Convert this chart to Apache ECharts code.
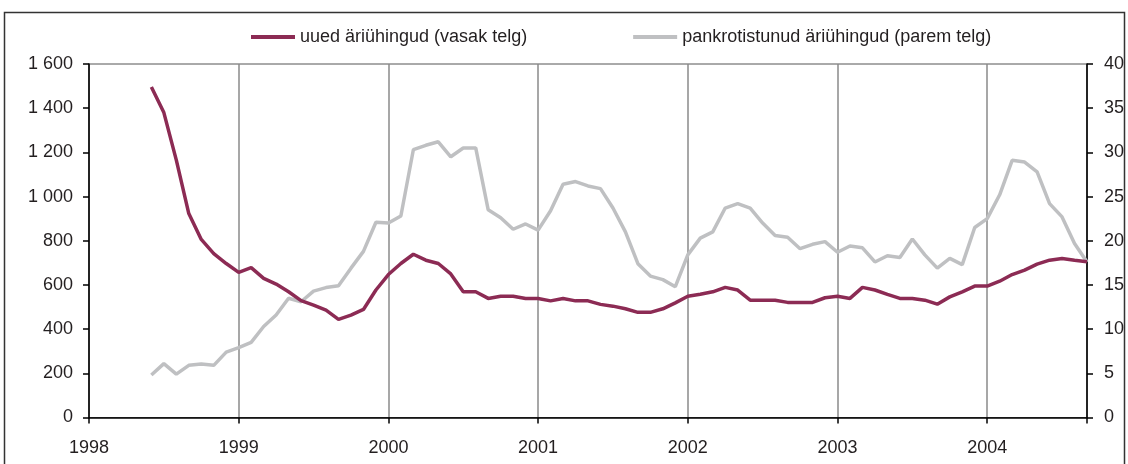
<!DOCTYPE html>
<html>
<head>
<meta charset="utf-8">
<script src="https://cdn.jsdelivr.net/npm/echarts@6/dist/echarts.min.js"></script>
<style>
  html, body { margin: 0; padding: 0; background: #fff; }
  #chart { width: 1128px; height: 464px; }
</style>
</head>
<body>
<div id="chart"></div>
<script>
// months counted from Jan 1998 (0) to Sep 2004 (80)
const startMonth = 5;
const years = ['1998', '1999', '2000', '2001', '2002', '2003', '2004'];

// uued äriühingud (vasak telg)
const newCompanies = [
  1496, 1380, 1165, 923, 806, 742, 697, 657, 678, 630, 604, 569,
  529, 509, 486, 444, 463, 489, 577, 647, 697, 739, 712, 697,
  650, 569, 569, 539, 549, 549, 539, 539, 528, 539, 528, 528,
  512, 504, 492, 476, 476, 492, 519, 549, 558, 569, 589, 577,
  531, 531, 531, 521, 521, 521, 542, 549, 539, 589, 577, 557,
  539, 539, 531, 513, 546, 569, 595, 595, 617, 647, 667, 694,
  712, 720, 712, 705
];

// pankrotistunud äriühingud (parem telg)
const bankrupt = [
  4.8, 6.1, 4.9, 5.9, 6.05, 5.9, 7.4, 7.9, 8.5, 10.3, 11.6, 13.5,
  13.1, 14.3, 14.7, 14.9, 16.9, 18.8, 22.1, 22.0, 22.8, 30.3, 30.8, 31.2,
  29.5, 30.5, 30.5, 23.5, 22.6, 21.3, 21.9, 21.2, 23.4, 26.4, 26.7, 26.2,
  25.9, 23.7, 21.0, 17.4, 16.0, 15.6, 14.8, 18.4, 20.3, 21.0, 23.7, 24.2,
  23.7, 22.0, 20.6, 20.4, 19.1, 19.6, 19.9, 18.7, 19.4, 19.2, 17.6, 18.3,
  18.1, 20.2, 18.4, 16.9, 18.0, 17.3, 21.5, 22.5, 25.2, 29.1, 28.9, 27.8,
  24.2, 22.7, 19.7, 17.6
];

const textColor = '#231f20';
const fontSize = 18;

function toPairs(arr) {
  return arr.map(function (v, i) {
    return [startMonth + i, v];
  });
}

const chart = echarts.init(document.getElementById('chart'));
chart.setOption({
  animation: false,
  textStyle: {
    fontFamily: 'Liberation Sans, Arial, sans-serif',
    color: textColor
  },
  graphic: [
    {
      type: 'rect',
      shape: { x: 4.5, y: 12.5, width: 1120, height: 480 },
      style: { fill: 'none', stroke: '#333', lineWidth: 1.5 },
      silent: true
    }
  ],
  legend: {
    left: 246,
    top: 23,
    itemWidth: 44,
    itemHeight: 4,
    itemGap: 106,
    icon: 'rect',
    textStyle: {
      fontSize: fontSize,
      color: textColor
    },
    data: ['uued äriühingud (vasak telg)', 'pankrotistunud äriühingud (parem telg)']
  },
  grid: {
    left: 89,
    right: 41,
    top: 64,
    bottom: 46.5,
    show: true,
    borderColor: '#555',
    borderWidth: 1
  },
  xAxis: {
    type: 'value',
    min: 0,
    max: 80,
    interval: 12,
    axisLine: { lineStyle: { color: '#000', width: 1.5 } },
    axisTick: { length: 6, lineStyle: { color: '#000', width: 1.5 } },
    axisLabel: {
      fontSize: fontSize,
      color: textColor,
      margin: 22,
      formatter: function (v) {
        return v % 12 === 0 ? years[v / 12] : '';
      }
    },
    splitLine: {
      show: true,
      lineStyle: { color: '#8a8a8a', width: 1.5 }
    }
  },
  yAxis: [
    {
      type: 'value',
      min: 0,
      max: 1600,
      interval: 200,
      position: 'left',
      axisLine: { show: true, lineStyle: { color: '#000', width: 1.5 } },
      axisTick: { show: true, length: 6, lineStyle: { color: '#000', width: 1.5 } },
      axisLabel: {
        fontSize: fontSize,
        color: textColor,
        margin: 16,
        formatter: function (v) {
          return String(v).replace(/\B(?=(\d{3})+(?!\d))/g, ' ');
        }
      },
      splitLine: { show: false }
    },
    {
      type: 'value',
      min: 0,
      max: 40,
      interval: 5,
      position: 'right',
      axisLine: { show: true, lineStyle: { color: '#000', width: 1.5 } },
      axisTick: { show: true, length: 6, lineStyle: { color: '#000', width: 1.5 } },
      axisLabel: {
        fontSize: fontSize,
        color: textColor,
        margin: 17
      },
      splitLine: { show: false }
    }
  ],
  series: [
    {
      name: 'uued äriühingud (vasak telg)',
      type: 'line',
      yAxisIndex: 0,
      data: toPairs(newCompanies),
      showSymbol: false,
      color: '#8c2b54',
      lineStyle: { width: 3.5, color: '#8c2b54' },
      z: 3
    },
    {
      name: 'pankrotistunud äriühingud (parem telg)',
      type: 'line',
      yAxisIndex: 1,
      data: toPairs(bankrupt),
      showSymbol: false,
      color: '#bfc0c2',
      lineStyle: { width: 3.5, color: '#bfc0c2' },
      z: 2
    }
  ]
});
</script>
</body>
</html>
